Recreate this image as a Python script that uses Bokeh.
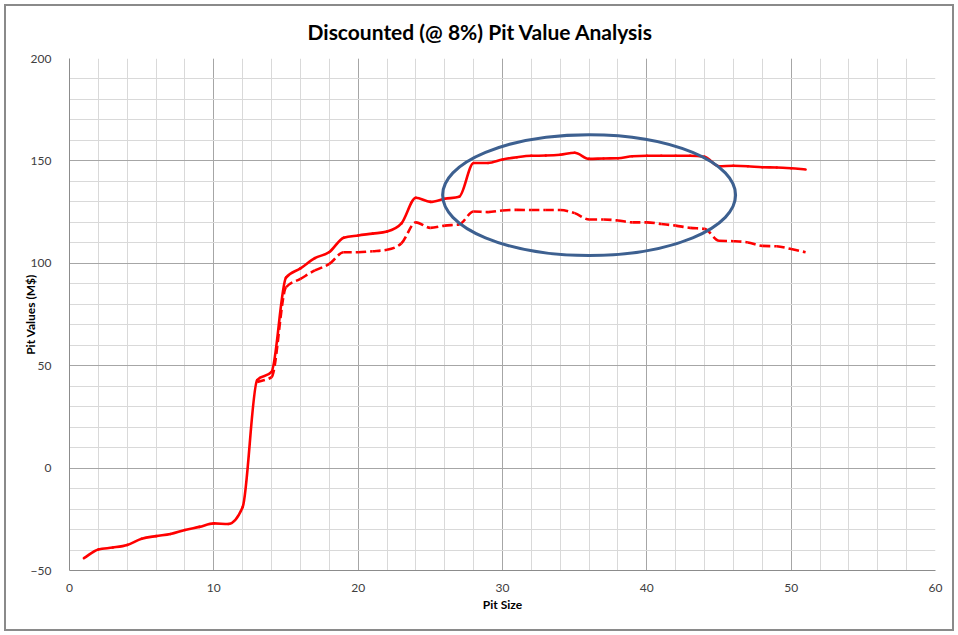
from bokeh.plotting import figure
from bokeh.models import FixedTicker, Range1d, Title, InlineStyleSheet
from bokeh.embed import file_html
from bokeh.resources import INLINE

# ---- data ----
pit_size_a = list(range(1, 52))
pit_value_a = [-44, -39.7, -38.8, -37.5, -34.5, -33.2, -32.2, -30.2, -28.7, -27,
               -27.3, -19, 43, 47, 93, 97.5, 102.5, 105.5, 112.5, 113.6,
               114.5, 115.5, 119.5, 132, 130, 131.5, 132.5, 149, 149, 150.7,
               151.8, 152.5, 152.6, 153, 154, 151, 151.2, 151.3, 152.3, 152.5,
               152.5, 152.5, 152.5, 152, 147.4, 147.6, 147.4, 146.9, 146.8, 146.4,
               145.8]

pit_size_b = list(range(13, 52))
pit_value_b = [42, 44.4, 88.3, 92.4, 96.5, 99.7, 105.4, 105.4, 105.9, 106.6,
               109.8, 120, 117.3, 118.4, 119, 125.3, 125, 125.8, 126.1, 126,
               126, 126, 124.5, 121.4, 121.4, 120.9, 120, 120, 119.2, 118.4,
               117.3, 116.8, 111, 110.8, 110.2, 108.5, 108.3, 107, 105.4]

x_ticks = [0, 10, 20, 30, 40, 50, 60]
x_minor = list(range(0, 61, 2))
y_ticks = [-50, 0, 50, 100, 150, 200]
y_minor = list(range(-50, 201, 10))

# highlight ellipse (data units)
ell_x, ell_y, ell_w, ell_h = 36, 133.3, 20.3, 59

FONT = "Lato"


def _sign(v):
    return (v > 0) - (v < 0)


def smooth_segments(xs, ys):
    """Smoothed line drawn as one cubic Bezier per pair of data points
    (monotone tangents, so the curve passes through every data point)."""
    n = len(xs)
    h = [xs[i + 1] - xs[i] for i in range(n - 1)]
    d = [(ys[i + 1] - ys[i]) / h[i] for i in range(n - 1)]
    m = [0.0] * n
    m[0], m[-1] = d[0], d[-1]
    for i in range(1, n - 1):
        pi = (d[i - 1] * h[i] + d[i] * h[i - 1]) / (h[i - 1] + h[i])
        m[i] = (_sign(d[i - 1]) + _sign(d[i])) * min(abs(d[i - 1]), abs(d[i]), 0.5 * abs(pi))
    out = dict(x0=[], y0=[], x1=[], y1=[], cx0=[], cy0=[], cx1=[], cy1=[])
    for i in range(n - 1):
        out["x0"].append(xs[i]); out["y0"].append(ys[i])
        out["x1"].append(xs[i + 1]); out["y1"].append(ys[i + 1])
        out["cx0"].append(xs[i] + h[i] / 3.0)
        out["cy0"].append(ys[i] + m[i] * h[i] / 3.0)
        out["cx1"].append(xs[i + 1] - h[i] / 3.0)
        out["cy1"].append(ys[i + 1] - m[i + 1] * h[i] / 3.0)
    return out


p = figure(width=958, height=635, output_backend="svg", toolbar_location=None,
           x_range=Range1d(0, 60), y_range=Range1d(-50, 200),
           min_border_left=69, min_border_right=23, min_border_top=58,
           min_border_bottom=65)

p.title = None
t = Title(text="Discounted (@ 8%) Pit Value Analysis", align="left",
          text_font=FONT, text_font_size="21px", text_font_style="bold",
          text_color="#000000", standoff=30, offset=238)
p.add_layout(t, "above")

p.outline_line_color = None
p.background_fill_color = "white"
p.border_fill_color = "white"
p.stylesheets = [InlineStyleSheet(css="""
:host { position: relative; }
:host::after {
  content: ''; position: absolute; left: 4px; top: 4px; right: 4px; bottom: 4px;
  border: 2px solid #8a8a8a; pointer-events: none; z-index: 1000;
}
""")]

p.xaxis.ticker = FixedTicker(ticks=x_ticks, minor_ticks=x_minor)
p.yaxis.ticker = FixedTicker(ticks=y_ticks, minor_ticks=y_minor)
p.xgrid.ticker = FixedTicker(ticks=x_ticks, minor_ticks=x_minor)
p.ygrid.ticker = FixedTicker(ticks=y_ticks, minor_ticks=y_minor)

for ax in (p.xaxis, p.yaxis):
    ax.major_tick_line_color = None
    ax.minor_tick_line_color = None
    ax.axis_line_color = "#8c8c8c"
    ax.axis_line_width = 1
    ax.major_label_text_font = FONT
    ax.major_label_text_font_size = "12px"
    ax.major_label_text_color = "#404040"
    ax.axis_label_text_font = FONT
    ax.axis_label_text_font_size = "12px"
    ax.axis_label_text_font_style = "bold"
    ax.axis_label_text_color = "#000000"

p.xaxis.axis_label = "Pit Size"
p.yaxis.axis_label = "Pit Values (M$)"
p.xaxis.major_label_standoff = 7
p.xaxis.axis_label_standoff = 2
p.yaxis.major_label_standoff = 12
p.yaxis.axis_label_standoff = -10

p.xgrid.grid_line_color = "#a6a6a6"
p.ygrid.grid_line_color = "#a6a6a6"
p.xgrid.minor_grid_line_color = "#d9d9d9"
p.ygrid.minor_grid_line_color = "#d9d9d9"

seg_a = smooth_segments(pit_size_a, pit_value_a)
seg_b = smooth_segments(pit_size_b, pit_value_b)
p.bezier(source=seg_a, x0="x0", y0="y0", x1="x1", y1="y1", cx0="cx0", cy0="cy0",
         cx1="cx1", cy1="cy1", line_color="#ff0000", line_width=2.6,
         line_cap="round")
p.bezier(source=seg_b, x0="x0", y0="y0", x1="x1", y1="y1", cx0="cx0", cy0="cy0",
         cx1="cx1", cy1="cy1", line_color="#ff0000", line_width=2.6,
         line_dash="8 4")

p.ellipse(x=[ell_x], y=[ell_y], width=[ell_w], height=[ell_h],
          fill_color=None, line_color="#3d6090", line_width=3)

open("out.html", "w").write(file_html(p, INLINE))
